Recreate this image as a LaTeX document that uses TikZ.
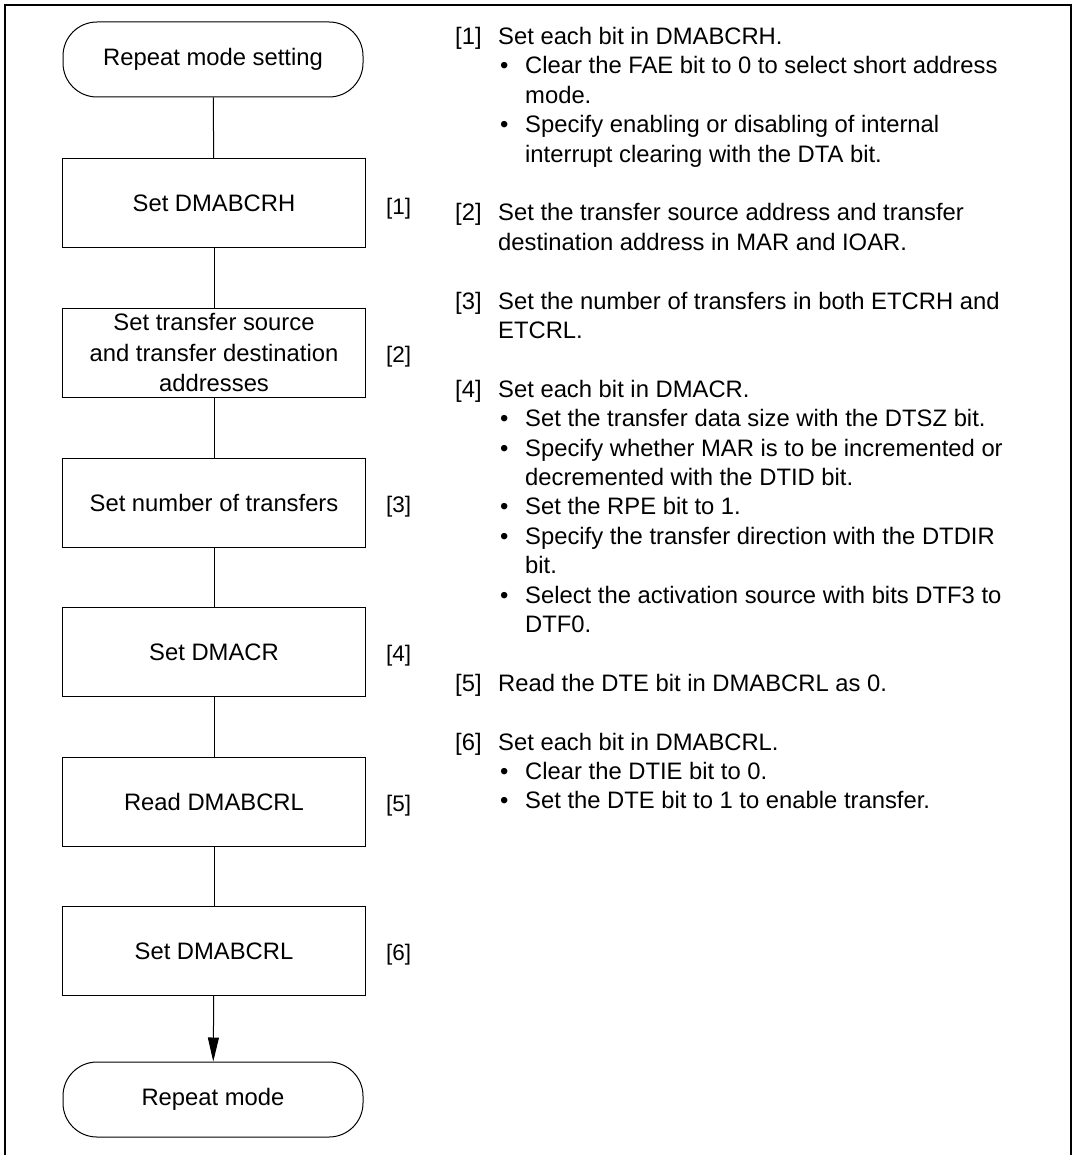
\documentclass[tikz,border=0pt]{standalone}
\usepackage{fontspec}
\setmainfont{Liberation Sans}
\usetikzlibrary{arrows.meta}
\newcommand\rtl[4]{\node[rtext] (#1) at (#2,{44.5+29.4*#3}) {#4};}
\begin{document}
\begin{tikzpicture}[x=1pt,y=-1pt,
  every node/.style={font=\fontsize{23.8}{29.4}\selectfont},
  proc/.style={draw,line width=1pt,minimum width=303pt,minimum height=89pt,inner sep=0pt,align=center},
  term/.style={draw,line width=1pt,rounded corners=34pt,minimum width=300pt,minimum height=75pt,inner sep=0pt},
  lbl/.style={anchor=west,inner sep=0pt,font=\fontsize{22.5}{26}\selectfont},
  rtext/.style={anchor=base west,inner sep=0pt},
  conn/.style={line width=1pt}]
\useasboundingbox (0,0) rectangle (1075,1155);
\draw[line width=2.5pt,line join=miter] (5,1156) -- (5,5) -- (1071,5) -- (1071,1156);
% flowchart
\node[term] (start) at (213,59.5) {Repeat mode setting};
\node[proc] (b1) at (214,203.5) {Set DMABCRH};
\node[proc,font=\fontsize{23.8}{30.5}\selectfont] (b2) at (214,353) {Set transfer source\\and transfer destination\\addresses};
\node[proc] (b3) at (214,502.5) {Set number of transfers};
\node[proc] (b4) at (214,652) {Set DMACR};
\node[proc] (b5) at (214,801.5) {Read DMABCRL};
\node[proc] (b6) at (214,951) {Set DMABCRL};
\node[term] (stop) at (213,1099.5) {Repeat mode};
\node[lbl] (l1) at (386,209) {[1]};
\node[lbl] (l2) at (386,357) {[2]};
\node[lbl] (l3) at (386,506.5) {[3]};
\node[lbl] (l4) at (386,656) {[4]};
\node[lbl] (l5) at (386,805.5) {[5]};
\node[lbl] (l6) at (386,955) {[6]};
\draw[conn] (start) -- (b1);
\draw[conn] (b1) -- (b2);
\draw[conn] (b2) -- (b3);
\draw[conn] (b3) -- (b4);
\draw[conn] (b4) -- (b5);
\draw[conn] (b5) -- (b6);
\draw[conn,-{Triangle[length=24pt,width=11pt]}] (b6) -- (stop);
% notes
\rtl{n1}{455}{0}{[1]}
\rtl{t1}{498}{0}{Set each bit in DMABCRH.}
\rtl{u1}{500}{1}{•}
\rtl{t2}{525}{1}{Clear the FAE bit to 0 to select short address}
\rtl{t3}{525}{2}{mode.}
\rtl{u2}{500}{3}{•}
\rtl{t4}{525}{3}{Specify enabling or disabling of internal}
\rtl{t5}{525}{4}{interrupt clearing with the DTA bit.}
\rtl{n2}{455}{6}{[2]}
\rtl{t6}{498}{6}{Set the transfer source address and transfer}
\rtl{t7}{498}{7}{destination address in MAR and IOAR.}
\rtl{n3}{455}{9}{[3]}
\rtl{t8}{498}{9}{Set the number of transfers in both ETCRH and}
\rtl{t9}{498}{10}{ETCRL.}
\rtl{n4}{455}{12}{[4]}
\rtl{t10}{498}{12}{Set each bit in DMACR.}
\rtl{u3}{500}{13}{•}
\rtl{t11}{525}{13}{Set the transfer data size with the DTSZ bit.}
\rtl{u4}{500}{14}{•}
\rtl{t12}{525}{14}{Specify whether MAR is to be incremented or}
\rtl{t13}{525}{15}{decremented with the DTID bit.}
\rtl{u5}{500}{16}{•}
\rtl{t14}{525}{16}{Set the RPE bit to 1.}
\rtl{u6}{500}{17}{•}
\rtl{t15}{525}{17}{Specify the transfer direction with the DTDIR}
\rtl{t16}{525}{18}{bit.}
\rtl{u7}{500}{19}{•}
\rtl{t17}{525}{19}{Select the activation source with bits DTF3 to}
\rtl{t18}{525}{20}{DTF0.}
\rtl{n5}{455}{22}{[5]}
\rtl{t19}{498}{22}{Read the DTE bit in DMABCRL as 0.}
\rtl{n6}{455}{24}{[6]}
\rtl{t20}{498}{24}{Set each bit in DMABCRL.}
\rtl{u8}{500}{25}{•}
\rtl{t21}{525}{25}{Clear the DTIE bit to 0.}
\rtl{u9}{500}{26}{•}
\rtl{t22}{525}{26}{Set the DTE bit to 1 to enable transfer.}
\end{tikzpicture}
\end{document}
